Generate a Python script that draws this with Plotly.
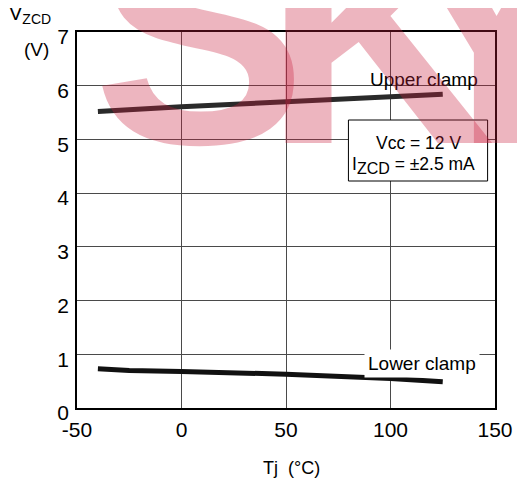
import plotly.graph_objects as go

# Data
temp_upper = [-40, -25, 0, 50, 100, 125]
v_upper = [5.52, 5.56, 5.61, 5.70, 5.79, 5.84]
temp_lower = [-40, -25, 0, 50, 100, 125]
v_lower = [0.73, 0.70, 0.68, 0.63, 0.55, 0.49]
x_ticks = [-50, 0, 50, 100, 150]
y_ticks = [0, 1, 2, 3, 4, 5, 6, 7]

FONT = "Liberation Sans, Arial, sans-serif"

# page body has an 8px margin -> figure is 8px smaller than the window
W, H = 517, 473
L, T = 69, 24
PW, PH = 423.5, 376


def px(page_x):
    return (page_x - 77) / PW


def py(page_y):
    return (408 - page_y) / PH


fig = go.Figure()
fig.add_trace(go.Scatter(x=temp_upper, y=v_upper, mode="lines",
                         line=dict(color="#2a2a2a", width=5), showlegend=False))
fig.add_trace(go.Scatter(x=temp_lower, y=v_lower, mode="lines",
                         line=dict(color="#111111", width=5), showlegend=False))

fig.update_layout(
    width=W, height=H,
    margin=dict(l=L, r=W - L - PW, t=T, b=H - T - PH, pad=0),
    paper_bgcolor="white", plot_bgcolor="white",
    font=dict(family=FONT, color="black"),
    xaxis=dict(range=[-50, 150], tickvals=x_ticks, ticktext=[str(v) for v in x_ticks],
               showgrid=True, gridcolor="#4a4a4a", gridwidth=1,
               showline=True, linecolor="black", linewidth=1.5, mirror=True,
               ticks="", zeroline=False, tickfont=dict(size=21, family=FONT),
               ticklabelstandoff=2),
    yaxis=dict(range=[0, 7], tickvals=y_ticks, ticktext=[str(v) for v in y_ticks],
               showgrid=True, gridcolor="#4a4a4a", gridwidth=1,
               showline=True, linecolor="black", linewidth=1.5, mirror=True,
               ticks="", zeroline=False, tickfont=dict(size=21, family=FONT),
               ticklabelshift=5, ticklabelstandoff=2),
)


def label(text, x, y, size, **kw):
    fig.add_annotation(x=px(x), y=py(y), xref="paper", yref="paper", showarrow=False,
                       text=text, font=dict(size=size, family=FONT),
                       xanchor=kw.pop("xanchor", "center"), yanchor=kw.pop("yanchor", "middle"),
                       **kw)


# Condition box
fig.add_shape(type="rect", xref="paper", yref="paper", x0=px(352), x1=px(493),
              y0=py(181), y1=py(120),
              line=dict(color="black", width=1), fillcolor="white", layer="above")
label("Vcc = 12 V", 422.5, 143, 17.5)
label("I<sub><span style='font-size:16px'>ZCD</span></sub> = ±2.5 mA", 418, 165, 17.5)

# Curve labels
label("Upper clamp", 429, 79, 19)
label("Lower clamp", 427, 363, 19, bgcolor="white", borderpad=3)

# Axis titles
label("V<sub>ZCD</sub>", 6, 14, 20, xanchor="left")
label("(V)", 35.5, 49, 19)
label("Tj  (°C)", 294, 468, 18)

# Watermark (one annotation per letter)
WM_SIZE = 320
WM_COLOR = "rgba(200,30,60,0.33)"
for letter, left in (("S", 91), ("K", 264), ("Y", 392)):
    fig.add_annotation(x=px(left), y=py(213), xref="paper", yref="paper", showarrow=False,
                       text="<b>%s</b>" % letter, xanchor="left", yanchor="bottom",
                       font=dict(size=WM_SIZE, family=FONT, color=WM_COLOR))

fig.write_html("out.html")
